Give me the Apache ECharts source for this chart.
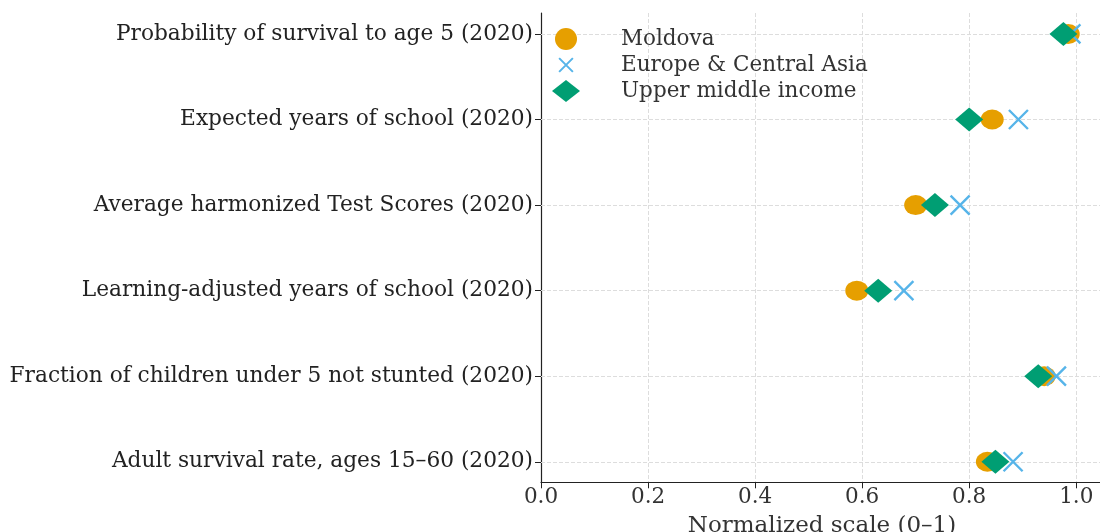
<!DOCTYPE html>
<html>
<head>
<meta charset="utf-8">
<script src="https://cdn.jsdelivr.net/npm/echarts@6/dist/echarts.min.js"></script>
<style>
  html,body{margin:0;padding:0;background:#fff;}
  #chart{width:1100px;height:532px;}
</style>
</head>
<body>
<div id="chart"></div>
<script>
// indicators, bottom to top (index = y position)
const indicators = [
  'Adult survival rate, ages 15\u201360 (2020)',
  'Fraction of children under 5 not stunted (2020)',
  'Learning-adjusted years of school (2020)',
  'Average harmonized Test Scores (2020)',
  'Expected years of school (2020)',
  'Probability of survival to age 5 (2020)'
]
const moldova = [0.834, 0.940, 0.590, 0.700, 0.843, 0.985]
const europe = [0.882, 0.963, 0.678, 0.783, 0.892, 0.990]
const upperMiddle = [0.849, 0.929, 0.630, 0.736, 0.800, 0.976]
const xTicks = [0, 0.2, 0.4, 0.6, 0.8, 1.0]
const rows = [0, 1, 2, 3, 4, 5]

const font = 'DejaVu Serif'
const pts = arr => arr.map((v, i) => [v, i])
const cross = 'path://M0,0L10,10M10,0L0,10'
// same cross with empty margin so the legend icon comes out smaller
const crossSmall = 'path://M-3,-3M13,13M0,0L10,10M10,0L0,10'

const chart = echarts.init(document.getElementById('chart'))
chart.setOption({
  animation: false,
  backgroundColor: '#fff',
  grid: {
    left: 541,
    top: 13,
    width: 562,
    height: 469.3,
    outerBoundsMode: 'none',
    containLabel: false
  },
  legend: {
    orient: 'vertical',
    left: 547,
    top: 23,
    itemWidth: 28,
    itemHeight: 22,
    itemGap: 3,
    textStyle: {
      fontFamily: font,
      fontSize: 21.5,
      color: '#333',
      padding: [0, 0, 0, 36]
    },
    data: [
      {name: 'Moldova'},
      {name: 'Europe & Central Asia', icon: crossSmall},
      {name: 'Upper middle income'}
    ]
  },
  xAxis: {
    type: 'value',
    min: 0,
    max: 1.05,
    name: 'Normalized scale (0\u20131)',
    nameLocation: 'middle',
    nameGap: 32,
    nameTextStyle: {fontFamily: font, fontSize: 23, color: '#333'},
    axisLine: {show: true, onZero: false, lineStyle: {color: '#222', width: 1.2}},
    axisTick: {show: true, length: 6, lineStyle: {color: '#222'}, customValues: xTicks},
    axisLabel: {
      fontFamily: font, fontSize: 21.5, color: '#333', margin: 4,
      customValues: xTicks,
      formatter: v => v.toFixed(1)
    },
    splitLine: {show: true, lineStyle: {color: '#ddd', type: 'dashed', width: 1}}
  },
  yAxis: {
    type: 'value',
    min: -0.24,
    max: 5.245,
    axisLine: {show: true, onZero: false, lineStyle: {color: '#222', width: 1.2}},
    axisTick: {show: true, length: 6, lineStyle: {color: '#222'}, customValues: rows},
    axisLabel: {
      fontFamily: font, fontSize: 21.7, color: '#222', margin: 8,
      customValues: rows,
      formatter: v => indicators[Math.round(v)] || ''
    },
    splitLine: {show: false}
  },
  series: [
    {
      // horizontal dashed guide lines at each indicator
      type: 'scatter',
      silent: true,
      z: 1,
      symbolSize: 0,
      data: [],
      markLine: {
        silent: true,
        z: 1,
        symbol: 'none',
        label: {show: false},
        lineStyle: {color: '#ddd', type: 'dashed', width: 1},
        data: rows.map(i => ({yAxis: i}))
      }
    },
    {
      name: 'Moldova',
      type: 'scatter',
      z: 3,
      symbol: 'circle',
      symbolSize: [23, 20],
      itemStyle: {color: '#E69F00', opacity: 1},
      data: pts(moldova)
    },
    {
      name: 'Europe & Central Asia',
      type: 'scatter',
      z: 4,
      symbol: cross,
      symbolSize: 19,
      itemStyle: {color: 'rgba(0,0,0,0)', borderColor: '#56B4E9', borderWidth: 2.4, opacity: 1},
      data: pts(europe)
    },
    {
      name: 'Upper middle income',
      type: 'scatter',
      z: 5,
      symbol: 'diamond',
      symbolSize: [28, 24],
      itemStyle: {color: '#009E73', opacity: 1},
      data: pts(upperMiddle)
    }
  ]
})
</script>
</body>
</html>
